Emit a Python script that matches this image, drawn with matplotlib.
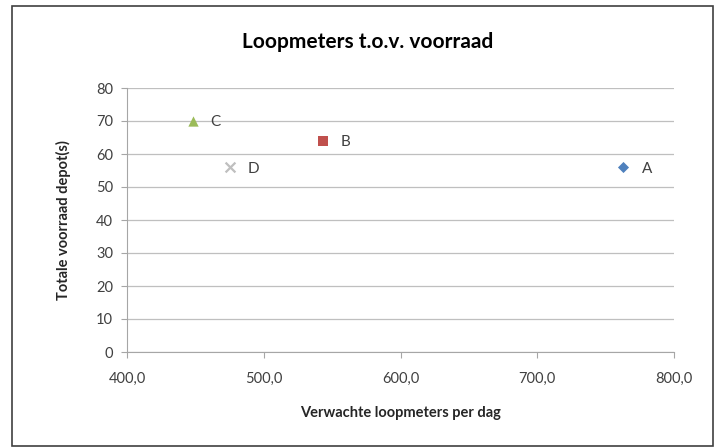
import matplotlib.pyplot as plt
from matplotlib.ticker import FuncFormatter
from matplotlib.patches import Rectangle

plt.rcParams['font.family'] = ['Lato', 'DejaVu Sans']

# data
namen = ['A', 'B', 'C', 'D']
loopmeters = [763, 543, 448, 475]
voorraad = [56, 64, 70, 56]
kleuren = ['#4F81BD', '#C0504D', '#9BBB59', '#BFBFBF']
markers = ['D', 's', '^', 'x']
groottes = [32, 60, 55, 50]

fig = plt.figure(figsize=(7.16, 4.47), dpi=100)
ax = fig.add_axes([127 / 716, 1 - 352 / 447, 547 / 716, 264 / 447])

for n, x, y, c, m, s in zip(namen, loopmeters, voorraad, kleuren, markers, groottes):
    if m == 'x':
        ax.scatter(x, y, marker=m, s=s, color=c, linewidths=1.6, zorder=3, clip_on=False)
    else:
        ax.scatter(x, y, marker=m, s=s, color=c, linewidths=0, zorder=3, clip_on=False)
    ax.annotate(n, (x, y), xytext=(13, -1), textcoords='offset points',
                va='center', ha='left', fontsize=11, color='#404040')

ax.set_xlim(400, 800)
ax.set_ylim(0, 80)
ax.set_xticks([400, 500, 600, 700, 800])
ax.set_yticks(range(0, 81, 10))
ax.xaxis.set_major_formatter(FuncFormatter(lambda v, p: f'{v:.1f}'.replace('.', ',')))

ax.grid(axis='y', color='#BFBFBF', linewidth=0.9)
ax.set_axisbelow(True)
for s in ['top', 'right']:
    ax.spines[s].set_visible(False)
for s in ['left', 'bottom']:
    ax.spines[s].set_color('#A6A6A6')
ax.tick_params(axis='both', colors='#A6A6A6', labelcolor='#404040', labelsize=10.5,
               length=4, direction='out')
ax.tick_params(axis='x', pad=10)
ax.tick_params(axis='y', pad=6)

ax.set_xlabel('Verwachte loopmeters per dag', fontsize=10.5, fontweight='bold',
              color='#262626', labelpad=15)
ax.set_ylabel('Totale voorraad depot(s)', fontsize=10.5, fontweight='bold',
              color='#262626', labelpad=18)
fig.text(368 / 716, 1 - 42 / 447, 'Loopmeters t.o.v. voorraad', ha='center',
         va='center', fontsize=15, fontweight='bold', color='#000000')

fig.patches.append(Rectangle((12 / 716, 1 / 447), 701 / 716, 440 / 447,
                             transform=fig.transFigure, fill=False,
                             edgecolor='#404040', linewidth=1.2))

fig.savefig('out.png', dpi=100)
